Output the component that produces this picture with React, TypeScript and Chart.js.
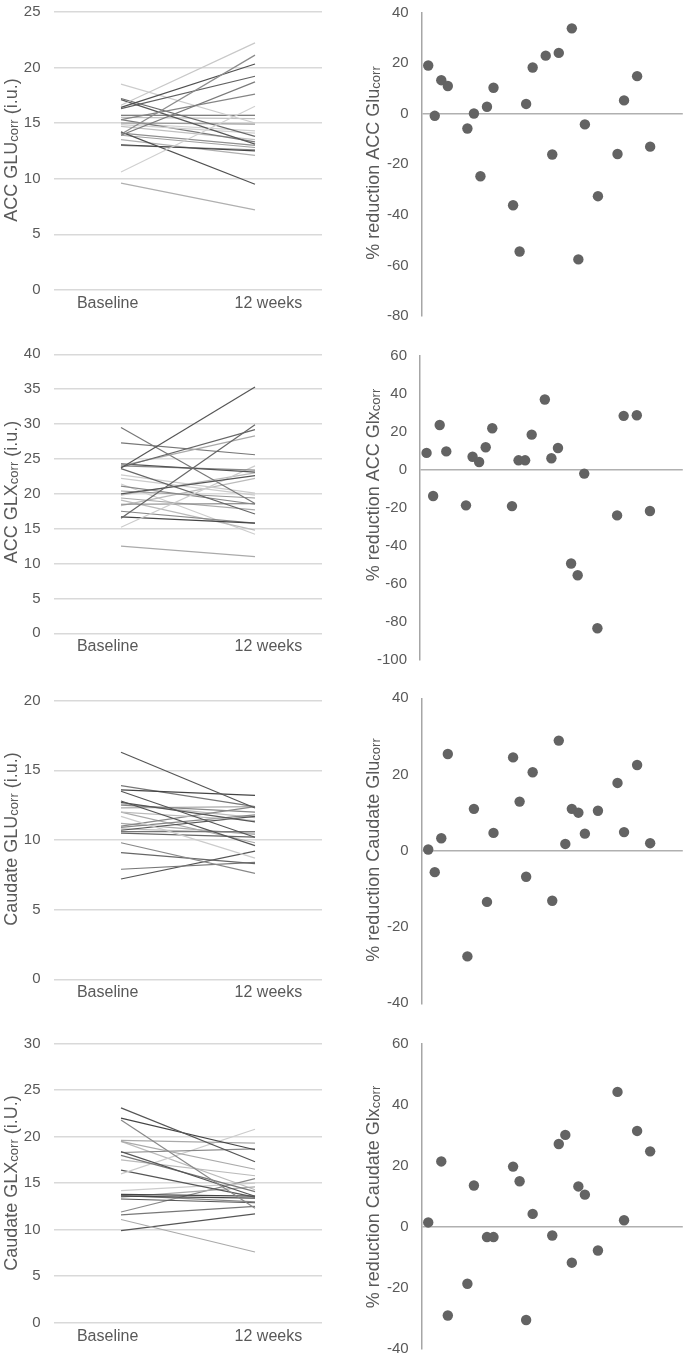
import React, { useEffect, useRef } from "react";
import { Chart, registerables } from "chart.js";

Chart.register(...registerables);

// ---------- data ----------
const categories = ["Baseline", "12 weeks"];

const accGluBaseline = [16.6, 14.0, 16.4, 16.3, 13.9, 15.3, 10.6, 18.5, 17.2, 17.1, 15.7, 15.5, 15.0, 14.85, 15.3, 14.2, 13.05, 13.0, 13.5, 14.1, 9.6, 14.7, 15.0, 13.9];
const accGluWeek12 = [22.2, 21.1, 20.3, 19.2, 18.7, 17.6, 16.5, 15.0, 13.8, 13.1, 15.7, 15.4, 14.9, 14.1, 13.3, 9.5, 12.5, 12.6, 12.1, 13.0, 7.2, 13.5, 14.3, 12.8];

const accGlxBaseline = [23.7, 16.5, 23.8, 24.0, 27.3, 29.5, 24.3, 24.0, 20.0, 15.2, 19.8, 23.6, 22.2, 21.1, 20.4, 18.5, 16.7, 17.5, 19.1, 19.4, 22.7, 12.5, 18.3, 21.4];
const accGlxWeek12 = [35.3, 29.9, 29.2, 28.3, 25.6, 18.6, 23.1, 23.4, 22.6, 24.0, 23.0, 17.1, 19.8, 18.5, 19.4, 18.6, 15.8, 15.8, 14.8, 17.7, 20.1, 11.0, 22.2, 14.2];

const caudateGluBaseline = [16.3, 13.6, 13.9, 13.5, 12.8, 12.7, 12.5, 12.0, 11.7, 11.0, 10.9, 10.7, 10.6, 10.5, 11.2, 12.6, 9.8, 9.1, 7.9, 7.2, 12.3, 10.8, 12.0];
const caudateGluWeek12 = [12.3, 13.2, 12.4, 10.2, 9.6, 11.3, 12.0, 11.4, 8.7, 12.4, 11.8, 11.7, 10.6, 10.2, 10.4, 11.6, 7.6, 8.3, 8.4, 9.2, 12.4, 10.5, 9.8];

const caudateGlxBaseline = [23.1, 22.0, 21.8, 19.6, 19.5, 18.4, 18.3, 18.0, 16.0, 16.4, 13.8, 13.6, 13.3, 13.5, 14.2, 11.9, 11.6, 11.1, 9.9, 17.5, 13.7, 19.5];
const caudateGlxWeek12 = [17.3, 18.6, 12.3, 19.3, 16.5, 13.6, 18.7, 14.1, 20.8, 13.5, 13.6, 13.4, 12.9, 14.6, 15.0, 15.5, 12.5, 7.6, 11.7, 15.8, 13.0, 14.3];

const accSubjectIds = [1, 2, 3, 4, 7, 8, 9, 10, 11, 14, 15, 16, 17, 19, 20, 21, 23, 24, 25, 27, 30, 31, 33, 35];
const accGluReduction = [19.1, -0.8, 13.3, 11.0, -5.8, 0.1, -24.7, 2.8, 10.3, -36.2, -54.5, 3.9, 18.3, 23.0, -16.1, 24.1, 33.8, -57.6, -4.2, -32.6, -15.9, 5.3, 14.9, -13.0];
const accGlxReduction = [9.0, -13.7, 23.7, 9.8, -18.6, 7.0, 4.2, 12.0, 22.0, -19.0, 5.1, 5.1, 18.6, 37.1, 6.2, 11.6, -49.2, -55.4, -1.9, -83.3, -23.9, 28.5, 28.8, -21.6];

const caudateGluIds = [1, 2, 3, 4, 7, 8, 10, 11, 14, 15, 16, 17, 20, 21, 22, 23, 24, 25, 27, 30, 31, 33, 35];
const caudateGluReduction = [0.35, -5.6, 3.3, 25.4, -27.7, 11.0, -13.4, 4.7, 24.5, 12.9, -6.8, 20.6, -13.1, 28.9, 1.8, 11.0, 10.0, 4.5, 10.5, 17.8, 4.9, 22.5, 2.0];

const caudateGlxIds = [1, 3, 4, 7, 8, 10, 11, 14, 15, 16, 17, 20, 21, 22, 23, 24, 25, 27, 30, 31, 33, 35];
const caudateGlxReduction = [1.5, 21.5, -29.0, -18.6, 13.6, -3.3, -3.3, 19.8, 15.0, -30.5, 4.3, -2.8, 27.2, 30.2, -11.7, 13.3, 10.6, -7.7, 44.3, 2.2, 31.5, 24.8];

// ---------- styles ----------
const accGluShades = ["#c8c8c8", "#8c8c8c", "#505050", "#606060", "#7a7a7a", "#858585", "#d0d0d0", "#cccccc", "#6a6a6a", "#585858", "#555555", "#c0c0c0", "#9a9a9a", "#d0d0d0", "#7a7a7a", "#505050", "#454545", "#8a8a8a", "#b0b0b0", "#909090", "#b0b0b0", "#c0c0c0", "#d0d0d0", "#a0a0a0"];
const accGlxShades = ["#555555", "#666666", "#666666", "#aaaaaa", "#777777", "#777777", "#555555", "#888888", "#555555", "#cccccc", "#bbbbbb", "#666666", "#cccccc", "#888888", "#999999", "#888888", "#444444", "#888888", "#bbbbbb", "#aaaaaa", "#cccccc", "#aaaaaa", "#bbbbbb", "#cccccc"];
const caudateGluShades = ["#555555", "#444444", "#777777", "#555555", "#555555", "#555555", "#888888", "#bbbbbb", "#cccccc", "#888888", "#888888", "#555555", "#777777", "#666666", "#aaaaaa", "#bbbbbb", "#888888", "#666666", "#777777", "#555555", "#aaaaaa", "#bbbbbb", "#aaaaaa"];
const caudateGlxShades = ["#555555", "#444444", "#888888", "#aaaaaa", "#aaaaaa", "#555555", "#888888", "#777777", "#cccccc", "#555555", "#444444", "#444444", "#555555", "#aaaaaa", "#cccccc", "#888888", "#777777", "#aaaaaa", "#555555", "#bbbbbb", "#888888", "#bbbbbb"];

const FONT = "'Liberation Sans', Arial, Helvetica, sans-serif";
const TEXT = "#595959";
const GRID = "#d9d9d9";
const TICK_SIZE = 15;
const CAT_SIZE = 16;
const CAT_LABEL_SPREAD = 0.1; // category labels sit slightly outside the line ends

type Rect = { x: number; y: number; w: number; h: number };
type Area = { l: number; t: number; r: number; b: number };

function titlePlugin(main: string, sub: string, tail: string, cx: number, cy: number) {
  return {
    id: "vtitle",
    afterDraw(chart: any) {
      const ctx = chart.ctx as CanvasRenderingContext2D;
      ctx.save();
      ctx.fillStyle = TEXT;
      ctx.textBaseline = "alphabetic";
      ctx.textAlign = "left";
      const mf = `18px ${FONT}`;
      const sf = `13px ${FONT}`;
      ctx.font = mf;
      const w1 = ctx.measureText(main).width;
      const w3 = ctx.measureText(tail).width;
      ctx.font = sf;
      const w2 = ctx.measureText(sub).width;
      const total = w1 + w2 + w3;
      ctx.translate(cx, cy);
      ctx.rotate(-Math.PI / 2);
      let x = -total / 2;
      const base = 6.5;
      ctx.font = mf;
      ctx.fillText(main, x, base);
      x += w1;
      ctx.font = sf;
      ctx.fillText(sub, x, base + 1.5);
      x += w2;
      ctx.font = mf;
      ctx.fillText(tail, x, base);
      ctx.restore();
    },
  };
}

type PairProps = {
  rect: Rect; area: Area; yMax: number;
  base: number[]; week: number[]; shades: string[];
  title: [string, string, string]; titleX: number; titleY: number;
};

function PairChart({ rect, area, yMax, base, week, shades, title, titleX, titleY }: PairProps) {
  const ref = useRef<HTMLCanvasElement | null>(null);
  useEffect(() => {
    if (!ref.current) return;
    const datasets = base.map((b, i) => ({
      data: [b, week[i]],
      borderColor: shades[i],
      borderWidth: 1.2,
      pointRadius: 0,
      fill: false,
      tension: 0,
    }));
    const chart = new Chart(ref.current, {
      type: "line",
      data: { labels: categories, datasets },
      options: {
        animation: false,
        responsive: false,
        maintainAspectRatio: false,
        layout: { padding: { left: 0, top: area.t - rect.y, right: rect.x + rect.w - area.r, bottom: 0 } },
        plugins: { legend: { display: false }, tooltip: { enabled: false } },
        scales: {
          x: {
            offset: true,
            grid: { display: false, drawTicks: false },
            border: { display: false },
            ticks: {
              padding: 4,
              autoSkip: false,
              maxRotation: 0,
              color: TEXT,
              font: { family: FONT, size: CAT_SIZE },
              callback: (_v: any, i: number) => categories[i],
            },
            afterBuildTicks: (s: any) => {
              s.ticks = [{ value: 0 - CAT_LABEL_SPREAD }, { value: 1 + CAT_LABEL_SPREAD }];
            },
            afterFit: (s: any) => { s.height = rect.y + rect.h - area.b; },
          },
          y: {
            min: 0,
            max: yMax,
            ticks: { stepSize: 5, padding: 13.5, color: TEXT, font: { family: FONT, size: TICK_SIZE } },
            grid: { color: GRID, lineWidth: 1.5, drawTicks: false },
            border: { display: false },
            afterFit: (s: any) => { s.width = area.l - rect.x; },
          },
        },
      } as any,
      plugins: [titlePlugin(title[0], title[1], title[2], titleX - rect.x, titleY - rect.y)],
    });
    return () => chart.destroy();
  }, []);
  return (
    <canvas
      ref={ref}
      width={rect.w}
      height={rect.h}
      style={{ position: "absolute", left: rect.x, top: rect.y, width: rect.w, height: rect.h }}
    />
  );
}

type RedProps = {
  rect: Rect; area: Area; yMin: number; yMax: number;
  ids: number[]; values: number[];
  title: [string, string, string]; titleX: number; titleY: number;
};

function ReductionChart({ rect, area, yMin, yMax, ids, values, title, titleX, titleY }: RedProps) {
  const ref = useRef<HTMLCanvasElement | null>(null);
  useEffect(() => {
    if (!ref.current) return;
    const chart = new Chart(ref.current, {
      type: "scatter",
      data: {
        datasets: [
          {
            data: ids.map((id, i) => ({ x: id, y: values[i] })),
            pointRadius: 5.2,
            pointBackgroundColor: "#636363",
            pointBorderWidth: 0,
            borderWidth: 0,
          },
        ],
      },
      options: {
        animation: false,
        responsive: false,
        maintainAspectRatio: false,
        layout: {
          padding: {
            left: 0,
            top: area.t - rect.y,
            right: rect.x + rect.w - area.r,
            bottom: rect.y + rect.h - area.b,
          },
        },
        plugins: { legend: { display: false }, tooltip: { enabled: false } },
        scales: {
          x: { type: "linear", display: false, min: 0, max: 40 },
          y: {
            min: yMin,
            max: yMax,
            ticks: { stepSize: 20, padding: 13, color: TEXT, font: { family: FONT, size: TICK_SIZE } },
            grid: {
              color: (c: any) => (c.tick && c.tick.value === 0 ? "#b0b0b0" : "rgba(0,0,0,0)"),
              lineWidth: 1.5,
              drawTicks: false,
            },
            border: { display: true, color: "#a6a6a6", width: 1.5 },
            afterFit: (s: any) => { s.width = area.l - rect.x; },
          },
        },
      } as any,
      plugins: [titlePlugin(title[0], title[1], title[2], titleX - rect.x, titleY - rect.y)],
    });
    return () => chart.destroy();
  }, []);
  return (
    <canvas
      ref={ref}
      width={rect.w}
      height={rect.h}
      style={{ position: "absolute", left: rect.x, top: rect.y, width: rect.w, height: rect.h }}
    />
  );
}

export default function App() {
  return (
    <div style={{ position: "absolute", left: 0, top: 0, width: 688, height: 1361, background: "#ffffff", overflow: "hidden" }}>
      <PairChart
        rect={{ x: 0, y: -14, w: 330, h: 334 }}
        area={{ l: 54, t: 11.7, r: 322, b: 290 }}
        yMax={25}
        base={accGluBaseline}
        week={accGluWeek12}
        shades={accGluShades}
        title={["ACC GLU", "corr", " (i.u.)"]}
        titleX={10}
        titleY={150}
      />
      <ReductionChart
        rect={{ x: 340, y: -14, w: 348, h: 356 }}
        area={{ l: 421.7, t: 12.7, r: 683, b: 316 }}
        yMin={-80}
        yMax={40}
        ids={accSubjectIds}
        values={accGluReduction}
        title={["% reduction ACC Glu", "corr", ""]}
        titleX={372}
        titleY={163}
      />
      <PairChart
        rect={{ x: 0, y: 328, w: 330, h: 336 }}
        area={{ l: 54, t: 354.3, r: 322, b: 633.3 }}
        yMax={40}
        base={accGlxBaseline}
        week={accGlxWeek12}
        shades={accGlxShades}
        title={["ACC GLX", "corr", " (i.u.)"]}
        titleX={10}
        titleY={492}
      />
      <ReductionChart
        rect={{ x: 340, y: 330, w: 348, h: 356 }}
        area={{ l: 420, t: 356, r: 683.3, b: 660 }}
        yMin={-100}
        yMax={60}
        ids={accSubjectIds}
        values={accGlxReduction}
        title={["% reduction ACC Glx", "corr", ""]}
        titleX={372}
        titleY={485}
      />
      <PairChart
        rect={{ x: 0, y: 674, w: 330, h: 336 }}
        area={{ l: 54, t: 700.7, r: 322, b: 979.3 }}
        yMax={20}
        base={caudateGluBaseline}
        week={caudateGluWeek12}
        shades={caudateGluShades}
        title={["Caudate GLU", "corr", " (i.u.)"]}
        titleX={10}
        titleY={839}
      />
      <ReductionChart
        rect={{ x: 340, y: 672, w: 348, h: 358 }}
        area={{ l: 421.7, t: 698.3, r: 683, b: 1003.3 }}
        yMin={-40}
        yMax={40}
        ids={caudateGluIds}
        values={caudateGluReduction}
        title={["% reduction Caudate Glu", "corr", ""]}
        titleX={372}
        titleY={850}
      />
      <PairChart
        rect={{ x: 0, y: 1017, w: 330, h: 336 }}
        area={{ l: 54, t: 1043.7, r: 322, b: 1322.7 }}
        yMax={30}
        base={caudateGlxBaseline}
        week={caudateGlxWeek12}
        shades={caudateGlxShades}
        title={["Caudate GLX", "corr", " (i.U.)"]}
        titleX={10}
        titleY={1183}
      />
      <ReductionChart
        rect={{ x: 340, y: 1018, w: 348, h: 358 }}
        area={{ l: 421.7, t: 1044, r: 683, b: 1349 }}
        yMin={-40}
        yMax={60}
        ids={caudateGlxIds}
        values={caudateGlxReduction}
        title={["% reduction Caudate Glx", "corr", ""]}
        titleX={372}
        titleY={1197}
      />
    </div>
  );
}
